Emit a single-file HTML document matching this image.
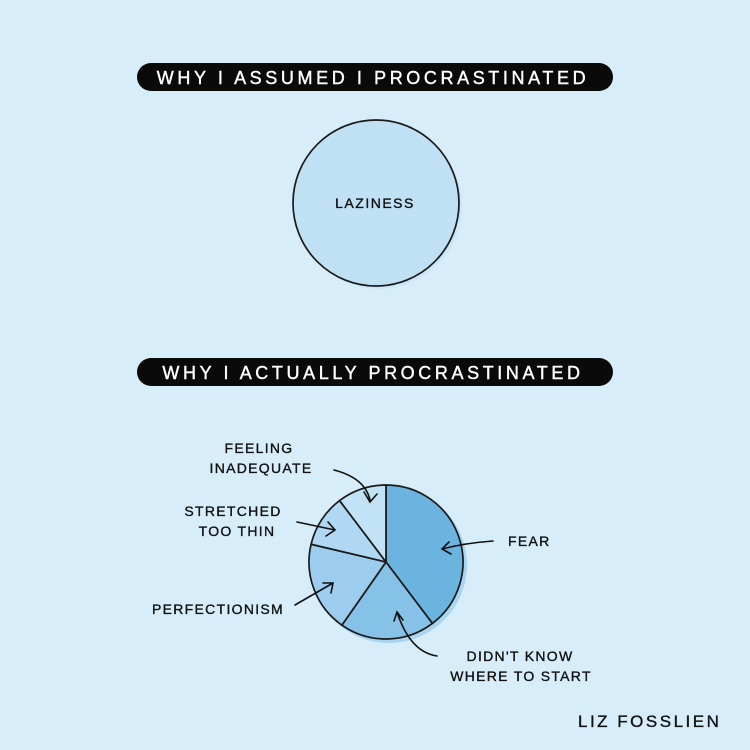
<!DOCTYPE html>
<html><head><meta charset="utf-8">
<style>
html,body{margin:0;padding:0;background:#d7eefa;}
svg{display:block;}
text{font-family:"Liberation Sans",sans-serif;}
</style></head>
<body>
<svg id="chart" width="750" height="750" viewBox="0 0 750 750" xmlns="http://www.w3.org/2000/svg">
  <rect x="0" y="0" width="750" height="750" fill="#d7eefa"/>
  <g>
    <rect x="137" y="63" width="476" height="28" rx="14" fill="#0a0a0a"/>
    <text x="373" y="84" text-anchor="middle" fill="#fff" stroke="#fff" stroke-width="0.4" font-size="18" letter-spacing="3.6">WHY I ASSUMED I PROCRASTINATED</text>
  </g>
  <g>
    <circle cx="379" cy="206" r="83" fill="#c6e4f7" opacity="0.7"/>
    <circle cx="376" cy="203" r="83" fill="#c0e1f4" stroke="#1a1a1a" stroke-width="1.7"/>
    <text x="375" y="208" text-anchor="middle" font-size="14" letter-spacing="1.5" fill="#111" stroke="#111" stroke-width="0.35">LAZINESS</text>
  </g>
  <g>
    <rect x="137" y="358" width="476" height="28" rx="14" fill="#0a0a0a"/>
    <text x="373" y="379" text-anchor="middle" fill="#fff" stroke="#fff" stroke-width="0.4" font-size="18" letter-spacing="3.6">WHY I ACTUALLY PROCRASTINATED</text>
  </g>
  <g id="pie"></g>
  <g font-size="14" fill="#111" stroke="#111" stroke-width="0.35" letter-spacing="1.3">
    <text x="259" y="453" text-anchor="middle"><tspan x="259">FEELING</tspan><tspan x="261" dy="20">INADEQUATE</tspan></text>
    <text x="233" y="516" text-anchor="middle"><tspan x="233">STRETCHED</tspan><tspan x="237" dy="20">TOO THIN</tspan></text>
    <text x="152" y="614">PERFECTIONISM</text>
    <text x="508" y="546">FEAR</text>
    <text x="520" y="661" text-anchor="middle"><tspan x="520">DIDN'T KNOW</tspan><tspan x="521" dy="20">WHERE TO START</tspan></text>
    <text x="578" y="727" font-size="17" letter-spacing="2.5">LIZ FOSSLIEN</text>
  </g>
  <g fill="none" stroke="#111" stroke-width="1.6" stroke-linecap="round">
    <path d="M334 470 Q365 478 370 500 M364 492 L370 502 L377 494"/>
    <path d="M297 522 L335 530 M328 522 L335 530 L326 536"/>
    <path d="M295 605 L333 583 M323 583 L333 583 L331 593"/>
    <path d="M493 541 Q465 543 442 549 M449 542 L442 549 L451 554"/>
    <path d="M437 656 Q410 652 397 612 M394 621 L397 612 L403 620"/>
  </g>
</svg>
<script>
const categories = ["Fear","Didn't know where to start","Perfectionism","Stretched too thin","Feeling inadequate"];
const values = [39.7, 20, 19, 11, 10.3];
const colors = ["#6cb4e0","#86c2e8","#9dcdee","#b0d8f2","#c2e2f5"];
const slugs = ["fear","didnt-know","perfectionism","stretched-too-thin","feeling-inadequate"];
const cx = 386, cy = 562, r = 77;
const NS = "http://www.w3.org/2000/svg";
const pie = document.getElementById('pie');
const total = values.reduce((a,b)=>a+b,0);
function pt(a){ return [cx + r*Math.sin(a), cy - r*Math.cos(a)]; }
const halo = document.createElementNS(NS,'circle');
halo.setAttribute('cx', cx+3); halo.setAttribute('cy', cy+3); halo.setAttribute('r', r+1);
halo.setAttribute('fill', '#a9d5f1');


pie.appendChild(halo);
let a0 = 0;
values.forEach((v,i)=>{
  const a1 = a0 + v/total*2*Math.PI;
  const [x0,y0] = pt(a0), [x1,y1] = pt(a1);
  const large = (a1-a0) > Math.PI ? 1 : 0;
  const p = document.createElementNS(NS,'path');
  p.setAttribute('d', `M${cx} ${cy} L${x0} ${y0} A${r} ${r} 0 ${large} 1 ${x1} ${y1} Z`);
  p.setAttribute('fill', colors[i]);
  p.setAttribute('stroke', '#1a1a1a');
  p.setAttribute('stroke-width', '1.7');
  p.setAttribute('stroke-linejoin', 'round');
  
  
  pie.appendChild(p);
  a0 = a1;
});
</script>
</body></html>
